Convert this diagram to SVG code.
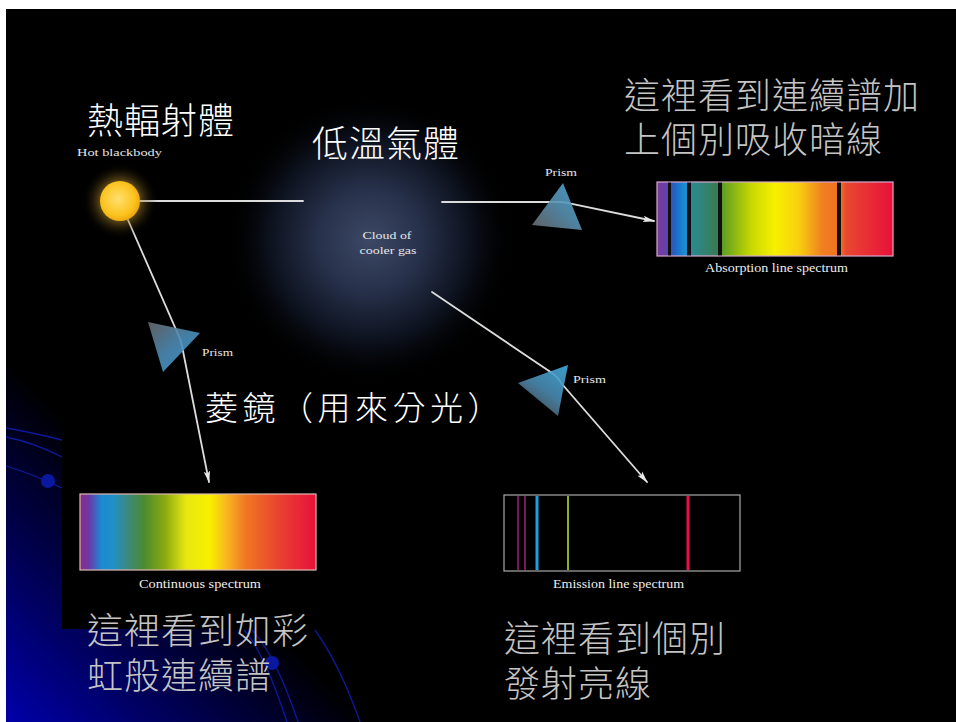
<svg xmlns="http://www.w3.org/2000/svg" width="956" height="722" viewBox="0 0 956 722">
  <defs>
    <style>
      .cjk { font-family: "Noto Sans CJK TC", "Noto Sans CJK SC", sans-serif; font-size: 36px; font-weight: 300; letter-spacing: 1px; }
      .gray { fill: #c4c4c4; }
      .white { fill: #ffffff; }
      .small { font-family: "Liberation Serif", serif; font-size: 11px; fill: #e6e6e6; }
      .label { font-family: "Liberation Serif", serif; font-size: 12px; fill: #eeeeee; }
      .ray { fill: none; stroke: #dcdcdc; stroke-width: 1.8; stroke-linecap: round; }
      .deco { fill: none; stroke: #0c1a98; stroke-width: 1.3; }
    </style>
    <!-- slide background: blue rising from the lower-left corner -->
    <linearGradient id="slideBg" gradientUnits="userSpaceOnUse" x1="-150" y1="150" x2="-365" y2="365">
      <stop offset="0" stop-color="#000000"/>
      <stop offset="0.12" stop-color="#000000"/>
      <stop offset="0.32" stop-color="#000028"/>
      <stop offset="0.6" stop-color="#00005e"/>
      <stop offset="0.94" stop-color="#0000a4"/>
      <stop offset="1" stop-color="#0000ac"/>
    </linearGradient>
    <radialGradient id="cloud" cx="370" cy="240" r="145" gradientUnits="userSpaceOnUse">
      <stop offset="0" stop-color="#3c4865"/>
      <stop offset="0.35" stop-color="#27314b"/>
      <stop offset="0.7" stop-color="#0c111d"/>
      <stop offset="1" stop-color="#000000" stop-opacity="0"/>
    </radialGradient>
    <radialGradient id="sunHalo" cx="0.5" cy="0.5" r="0.5">
      <stop offset="0.5" stop-color="#c89a30" stop-opacity="0.5"/>
      <stop offset="1" stop-color="#000000" stop-opacity="0"/>
    </radialGradient>
    <radialGradient id="sunDisk" cx="0.45" cy="0.45" r="0.6">
      <stop offset="0" stop-color="#ffe070"/>
      <stop offset="0.7" stop-color="#fcc21c"/>
      <stop offset="1" stop-color="#e8a010"/>
    </radialGradient>
    <linearGradient id="prismA" x1="1" y1="0" x2="0" y2="1">
      <stop offset="0" stop-color="#4aa8dc"/>
      <stop offset="0.5" stop-color="#5890b0"/>
      <stop offset="1" stop-color="#6a6a6a"/>
    </linearGradient>
    <linearGradient id="prismB" x1="0" y1="0" x2="1" y2="1">
      <stop offset="0" stop-color="#6a6a6a"/>
      <stop offset="0.5" stop-color="#4c8cb8"/>
      <stop offset="1" stop-color="#3aa0dc"/>
    </linearGradient>
    <linearGradient id="prismC" x1="1" y1="0" x2="0.3" y2="1">
      <stop offset="0" stop-color="#42aee4"/>
      <stop offset="0.55" stop-color="#4a8ab0"/>
      <stop offset="1" stop-color="#505050"/>
    </linearGradient>
    <linearGradient id="rainbow" x1="0" y1="0" x2="1" y2="0">
      <stop offset="0" stop-color="#8a2a8a"/>
      <stop offset="0.04" stop-color="#6a3aa8"/>
      <stop offset="0.09" stop-color="#1a8ad4"/>
      <stop offset="0.14" stop-color="#2090c8"/>
      <stop offset="0.2" stop-color="#3a8a80"/>
      <stop offset="0.27" stop-color="#4a8a30"/>
      <stop offset="0.36" stop-color="#8aaa10"/>
      <stop offset="0.45" stop-color="#e8e810"/>
      <stop offset="0.55" stop-color="#f8f000"/>
      <stop offset="0.62" stop-color="#f8b820"/>
      <stop offset="0.7" stop-color="#f07822"/>
      <stop offset="0.85" stop-color="#e84030"/>
      <stop offset="1" stop-color="#e8103c"/>
    </linearGradient>
    <linearGradient id="absorb" x1="0" y1="0" x2="1" y2="0">
      <stop offset="0" stop-color="#7a3a9a"/>
      <stop offset="0.05" stop-color="#5a44b0"/>
      <stop offset="0.07" stop-color="#2060c0"/>
      <stop offset="0.12" stop-color="#1890d8"/>
      <stop offset="0.15" stop-color="#2a8a90"/>
      <stop offset="0.26" stop-color="#3a7a50"/>
      <stop offset="0.28" stop-color="#60a020"/>
      <stop offset="0.4" stop-color="#c8d800"/>
      <stop offset="0.5" stop-color="#f8f000"/>
      <stop offset="0.6" stop-color="#f8d010"/>
      <stop offset="0.7" stop-color="#f08020"/>
      <stop offset="0.78" stop-color="#f07020"/>
      <stop offset="0.8" stop-color="#e84830"/>
      <stop offset="1" stop-color="#e8103a"/>
    </linearGradient>
    <marker id="arrow" markerUnits="userSpaceOnUse" markerWidth="12" markerHeight="8" refX="11" refY="4" orient="auto">
      <path d="M0,0.8 L12,4 L0,7.2 L2.5,4 Z" fill="#e8e8e8"/>
    </marker>
  </defs>

  <!-- page margin and slide -->
  <rect x="0" y="0" width="956" height="722" fill="#ffffff"/>
  <rect x="6" y="9" width="950" height="713" fill="url(#slideBg)"/>

  <!-- template ornaments -->
  <g id="ornaments">
    <path class="deco" d="M6,428 Q30,432 62,440"/>
    <path class="deco" d="M6,437 Q35,443 62,457"/>
    <path class="deco" d="M6,466 Q30,473 62,488"/>
    <circle cx="48" cy="481" r="7" fill="#0a18a0"/>
    <path class="deco" d="M244,630 Q264,652 287,722"/>
    <path class="deco" d="M252,630 Q276,656 298,722"/>
    <path class="deco" d="M315,630 Q340,665 360,722"/>
    <circle cx="272" cy="663" r="7" fill="#0a18a0"/>
  </g>

  <!-- figure panel -->
  <rect x="62" y="9" width="894" height="620" fill="#000000"/>

  <g id="cloud-gas">
    <ellipse cx="370" cy="245" rx="150" ry="145" fill="url(#cloud)"/>
    <text class="small" x="387" y="239" text-anchor="middle" textLength="49" lengthAdjust="spacingAndGlyphs">Cloud of</text>
    <text class="small" x="388" y="254" text-anchor="middle" textLength="57" lengthAdjust="spacingAndGlyphs">cooler gas</text>
    <text class="cjk white" x="312" y="157">低溫氣體</text>
  </g>

  <g id="connectors">
    <path class="ray" d="M140,201 L303,201"/>
    <path class="ray" d="M442,202 L560,202 Q566,202 572,204 L654,221" marker-end="url(#arrow)"/>
    <path class="ray" d="M128,220 L178,334 Q181,340 182,346 L209,482" marker-end="url(#arrow)"/>
    <path class="ray" d="M432,292 L552,373 Q558,377 562,384 L647,482" marker-end="url(#arrow)"/>
  </g>

  <g id="hot-blackbody">
    <circle cx="120" cy="201" r="38" fill="url(#sunHalo)"/>
    <circle cx="120" cy="201" r="20" fill="url(#sunDisk)"/>
    <text class="small" x="77" y="156" textLength="85" lengthAdjust="spacingAndGlyphs">Hot blackbody</text>
    <text class="cjk white" x="87" y="134">熱輻射體</text>
  </g>

  <g id="prism-top">
    <polygon points="563,183 532,225 582,230" fill="url(#prismA)" opacity="0.9"/>
    <text class="small" x="545" y="176" textLength="32" lengthAdjust="spacingAndGlyphs">Prism</text>
  </g>

  <g id="prism-left">
    <polygon points="148,322 200,333 163,372" fill="url(#prismB)" opacity="0.9"/>
    <text class="small" x="202" y="356" textLength="31" lengthAdjust="spacingAndGlyphs">Prism</text>
  </g>

  <g id="prism-lower">
    <polygon points="568,365 518,383 558,416" fill="url(#prismC)" opacity="0.9"/>
    <text class="small" x="573" y="383" textLength="33" lengthAdjust="spacingAndGlyphs">Prism</text>
  </g>

  <g id="prism-caption">
    <text class="cjk white" x="205" y="420" style="font-size:33px; letter-spacing:4.5px">菱鏡（用來分光）</text>
  </g>

  <g id="absorption-spectrum">
    <rect x="657" y="182" width="236" height="74" fill="url(#absorb)" stroke="#d8a8d0" stroke-width="1.2"/>
    <g fill="#101010">
      <rect x="668" y="182.6" width="3" height="72.8"/>
      <rect x="687" y="182.6" width="4" height="72.8"/>
      <rect x="718" y="182.6" width="4" height="72.8"/>
      <rect x="837" y="182.6" width="4" height="72.8"/>
    </g>
    <text class="label" x="705" y="272" textLength="143" lengthAdjust="spacingAndGlyphs">Absorption line spectrum</text>
  </g>

  <g id="continuous-spectrum">
    <rect x="80" y="494" width="236" height="76" fill="url(#rainbow)" stroke="#e0b8b0" stroke-width="1.2"/>
    <text class="label" x="139" y="588" textLength="122" lengthAdjust="spacingAndGlyphs">Continuous spectrum</text>
  </g>

  <g id="emission-spectrum">
    <rect x="504" y="495" width="236" height="76" fill="#000000" stroke="#a8a8a8" stroke-width="1.2"/>
    <line x1="518" y1="496" x2="518" y2="570" stroke="#a0207a" stroke-width="1.5"/>
    <line x1="525" y1="496" x2="525" y2="570" stroke="#a0207a" stroke-width="1.5"/>
    <line x1="537" y1="496" x2="537" y2="570" stroke="#20a0e0" stroke-width="3"/>
    <line x1="568" y1="496" x2="568" y2="570" stroke="#90b020" stroke-width="2"/>
    <line x1="688" y1="496" x2="688" y2="570" stroke="#e8104a" stroke-width="3"/>
    <text class="label" x="553" y="588" textLength="131" lengthAdjust="spacingAndGlyphs">Emission line spectrum</text>
  </g>

  <g id="notes">
    <text class="cjk gray"><tspan x="624" y="109">這裡看到連續譜加</tspan><tspan x="624" y="153">上個別吸收暗線</tspan></text>
    <text class="cjk gray"><tspan x="87" y="644">這裡看到如彩</tspan><tspan x="87" y="689">虹般連續譜</tspan></text>
    <text class="cjk gray"><tspan x="504" y="652">這裡看到個別</tspan><tspan x="504" y="697">發射亮線</tspan></text>
  </g>
</svg>
